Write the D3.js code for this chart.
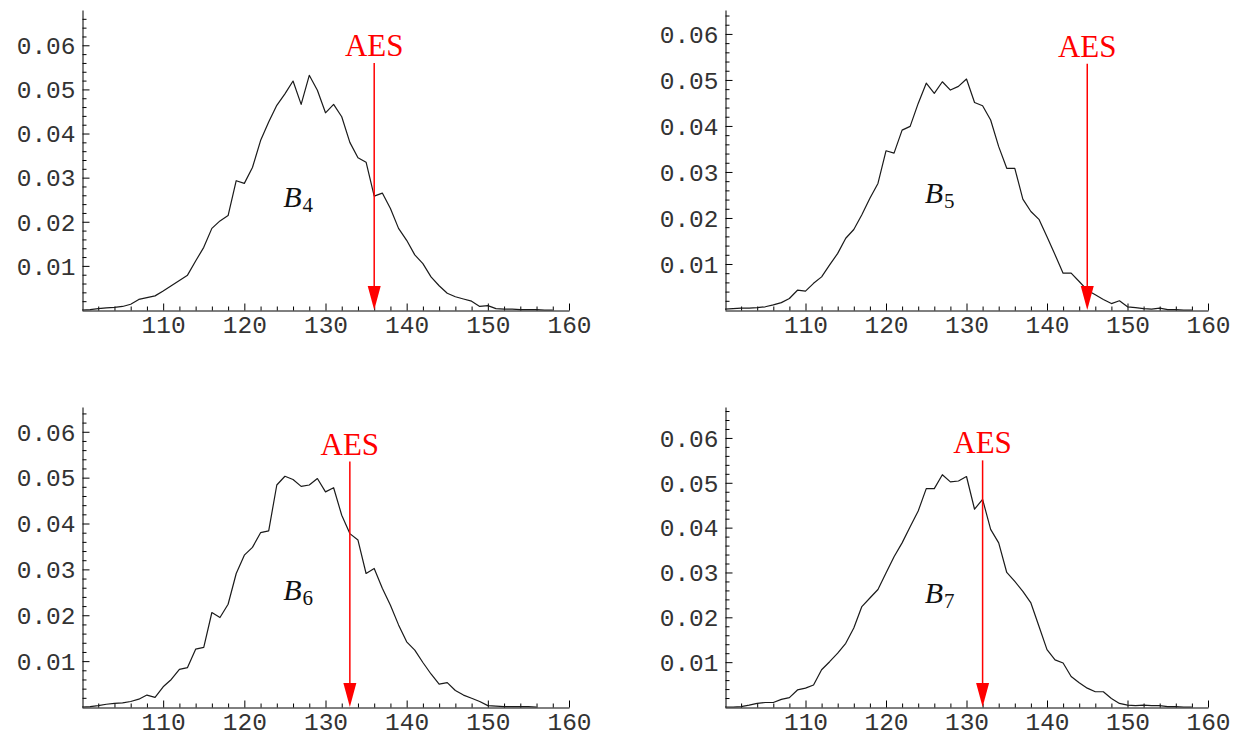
<!DOCTYPE html>
<html>
<head>
<meta charset="utf-8">
<script src="https://cdn.jsdelivr.net/npm/d3@7"></script>
<style>
  body { margin: 0; background: #fff; }
  svg { display: block; }
  .tick-label { font-family: "Liberation Mono", "Courier New", monospace; font-size: 24.5px; fill: #333; }
  .aes-label { font-family: "Liberation Serif", "Times New Roman", serif; font-size: 31px; fill: #ff0000; }
  .b-label { font-family: "Liberation Serif", "Times New Roman", serif; fill: #111; }
</style>
</head>
<body>
<svg id="chart" width="1244" height="736"></svg>
<script>
// histogram values, one per integer score starting at xStart
const xStart = 100;

const densityB4 = [0, 0.0001, 0.0003, 0.0005, 0.0006, 0.0008, 0.0013, 0.0024, 0.0028, 0.0032,
    0.0043, 0.0055, 0.0067, 0.0079, 0.0111, 0.0142, 0.0185, 0.0202, 0.0214, 0.0293,
    0.0287, 0.0323, 0.0384, 0.0426, 0.0464, 0.049, 0.0519, 0.0466, 0.0532, 0.0498,
    0.0447, 0.0466, 0.0438, 0.038, 0.0345, 0.0335, 0.0258, 0.0265, 0.023, 0.0185,
    0.0158, 0.0125, 0.0105, 0.0075, 0.0055, 0.0038, 0.003, 0.0025, 0.002, 0.0008,
    0.001, 0.0003, 0.0002, 0.0002, 0.0001, 0.0001, 0.0001, 0, 0];

const densityB5 = [0.0002, 0.0003, 0.0004, 0.0004, 0.0005, 0.0007, 0.0011, 0.0016, 0.0025, 0.0043,
    0.0041, 0.0058, 0.0072, 0.0098, 0.0123, 0.0156, 0.0175, 0.0207, 0.0243, 0.0275,
    0.0346, 0.0341, 0.0391, 0.0399, 0.0449, 0.0493, 0.0471, 0.0496, 0.0478, 0.0486,
    0.0502, 0.0451, 0.0444, 0.0413, 0.0355, 0.0308, 0.0308, 0.0241, 0.0214, 0.0197,
    0.0159, 0.012, 0.008, 0.008, 0.0062, 0.0043, 0.0033, 0.0023, 0.0014, 0.002,
    0.0007, 0.0005, 0.0003, 0.0002, 0.0004, 0.0001, 0.0001, 0, 0];

const densityB6 = [0, 0.0001, 0.0003, 0.0006, 0.0008, 0.0009, 0.0012, 0.0017, 0.0026, 0.0021,
    0.0044, 0.006, 0.0082, 0.0086, 0.0126, 0.013, 0.0206, 0.0195, 0.0224, 0.0291,
    0.0331, 0.0348, 0.038, 0.0384, 0.0484, 0.0503, 0.0496, 0.0481, 0.0484, 0.0498,
    0.0469, 0.0478, 0.0418, 0.0378, 0.0364, 0.0291, 0.0302, 0.0259, 0.0222, 0.0179,
    0.0142, 0.0124, 0.0097, 0.0072, 0.005, 0.0053, 0.0036, 0.0026, 0.0019, 0.0012,
    0.0003, 0.0002, 0.0001, 0.0001, 0.0001, 0.0001, 0];

const densityB7 = [0, 0, 0.0001, 0.0004, 0.0008, 0.001, 0.001, 0.0017, 0.0021, 0.0038,
    0.0042, 0.0049, 0.0083, 0.0101, 0.012, 0.0142, 0.0176, 0.0224, 0.0243, 0.0262,
    0.0299, 0.0335, 0.0366, 0.0402, 0.0437, 0.0487, 0.0487, 0.0518, 0.0502, 0.0504,
    0.0514, 0.0441, 0.0463, 0.0396, 0.0366, 0.03, 0.028, 0.0258, 0.0232, 0.018,
    0.0128, 0.0105, 0.0098, 0.0068, 0.0054, 0.0042, 0.0034, 0.0034, 0.0019, 0.0008,
    0.0004, 0.0003, 0.0004, 0.0003, 0.0003, 0.0001, 0.0001, 0, 0];

const panelSubscripts = ["4", "5", "6", "7"];
const aesValues = [136, 145, 133, 132];        // where the red arrow points
const aesTopValues = [0.056, 0.0535, 0.0535, 0.055];
const yMaxValues = [0.068, 0.0652, 0.0654, 0.0669];   // plot range of each panel

const xDomain = [100, 160];
const xTickLabels = [110, 120, 130, 140, 150, 160];
const yTickLabels = [0.01, 0.02, 0.03, 0.04, 0.05, 0.06];

const allDensities = [densityB4, densityB5, densityB6, densityB7];

// pixel frame of each panel: left/right edge of x axis, y of the zero line
const frames = [
    { left: 82,  right: 569,  zero: 310 },
    { left: 725, right: 1208, zero: 310 },
    { left: 82,  right: 569,  zero: 707 },
    { left: 725, right: 1208, zero: 707 }
];
const plotHeight = 300;

const svg = d3.select("#chart");

allDensities.forEach((density, i) => drawPanel(i, density));

function drawPanel(i, density) {
    const f = frames[i];

    const xScale = d3.scaleLinear().domain(xDomain).range([f.left, f.right]);
    const yScale = d3.scaleLinear().domain([0, yMaxValues[i]]).range([f.zero, f.zero - plotHeight]);

    const g = svg.append("g");

    // minor ticks, every 2 on x and every 0.002 on y
    const xMinor = d3.range(102, 160.5, 2).filter(v => v % 10 !== 0);
    const yMinor = d3.range(0.002, yMaxValues[i], 0.002).filter(v => Math.abs(v * 100 - Math.round(v * 100)) > 1e-6);

    g.append("g")
        .attr("transform", `translate(0,${f.zero + 0.5})`)
        .call(d3.axisBottom(xScale).tickValues(xMinor).tickSizeInner(-4).tickSizeOuter(0).tickFormat(""))
        .call(a => a.select(".domain").remove());

    g.append("g")
        .attr("transform", `translate(${f.left + 0.5},0)`)
        .call(d3.axisLeft(yScale).tickValues(yMinor).tickSizeInner(-4).tickSizeOuter(0).tickFormat(""))
        .call(a => a.select(".domain").remove());

    // major ticks with labels
    const xAxis = g.append("g")
        .attr("transform", `translate(0,${f.zero + 0.5})`)
        .call(d3.axisBottom(xScale).tickValues(xTickLabels).tickSizeInner(-7).tickSizeOuter(0).tickPadding(5));

    const yAxis = g.append("g")
        .attr("transform", `translate(${f.left + 0.5},0)`)
        .call(d3.axisLeft(yScale).tickValues(yTickLabels).tickSizeInner(-7).tickSizeOuter(0).tickPadding(7)
            .tickFormat(d3.format(".2f")));

    [xAxis, yAxis].forEach(a => {
        a.attr("font-family", null).attr("font-size", null);
        a.selectAll("text").attr("class", "tick-label").attr("fill", null);
    });
    yAxis.selectAll("text").attr("dy", "0.34em");

    g.selectAll("path.domain").attr("stroke", "#000").attr("stroke-width", 1);
    g.selectAll(".tick line").attr("stroke", "#000").attr("stroke-width", 1);

    // histogram curve
    const line = d3.line()
        .x((d, k) => xScale(xStart + k))
        .y(d => yScale(d));

    g.append("path")
        .datum(density)
        .attr("fill", "none")
        .attr("stroke", "#1a1a1a")
        .attr("stroke-width", 1.2)
        .attr("stroke-linejoin", "round")
        .attr("d", line);

    // AES arrow
    const ax = xScale(aesValues[i]);
    const headLen = 24, headHalf = 6.5;
    g.append("line")
        .attr("x1", ax).attr("x2", ax)
        .attr("y1", yScale(aesTopValues[i]))
        .attr("y2", yScale(0) - headLen + 2)
        .attr("stroke", "#ff0000")
        .attr("stroke-width", 1.5);

    g.append("path")
        .attr("d", `M${ax - headHalf},${yScale(0) - headLen}L${ax + headHalf},${yScale(0) - headLen}L${ax},${yScale(0)}Z`)
        .attr("fill", "#ff0000");

    g.append("text")
        .attr("class", "aes-label")
        .attr("x", ax)
        .attr("y", yScale(aesTopValues[i]) - 7)
        .attr("text-anchor", "middle")
        .text("AES");

    // B_n label
    const label = g.append("text")
        .attr("class", "b-label")
        .attr("x", xScale(124.8))
        .attr("y", yScale(0.0233));
    label.append("tspan").attr("font-style", "italic").attr("font-size", 30).text("B");
    label.append("tspan").attr("font-size", 21).attr("dx", 1).attr("dy", 5).text(panelSubscripts[i]);

    console.log(`panel B${panelSubscripts[i]} OK`);
}
</script>
</body>
</html>
